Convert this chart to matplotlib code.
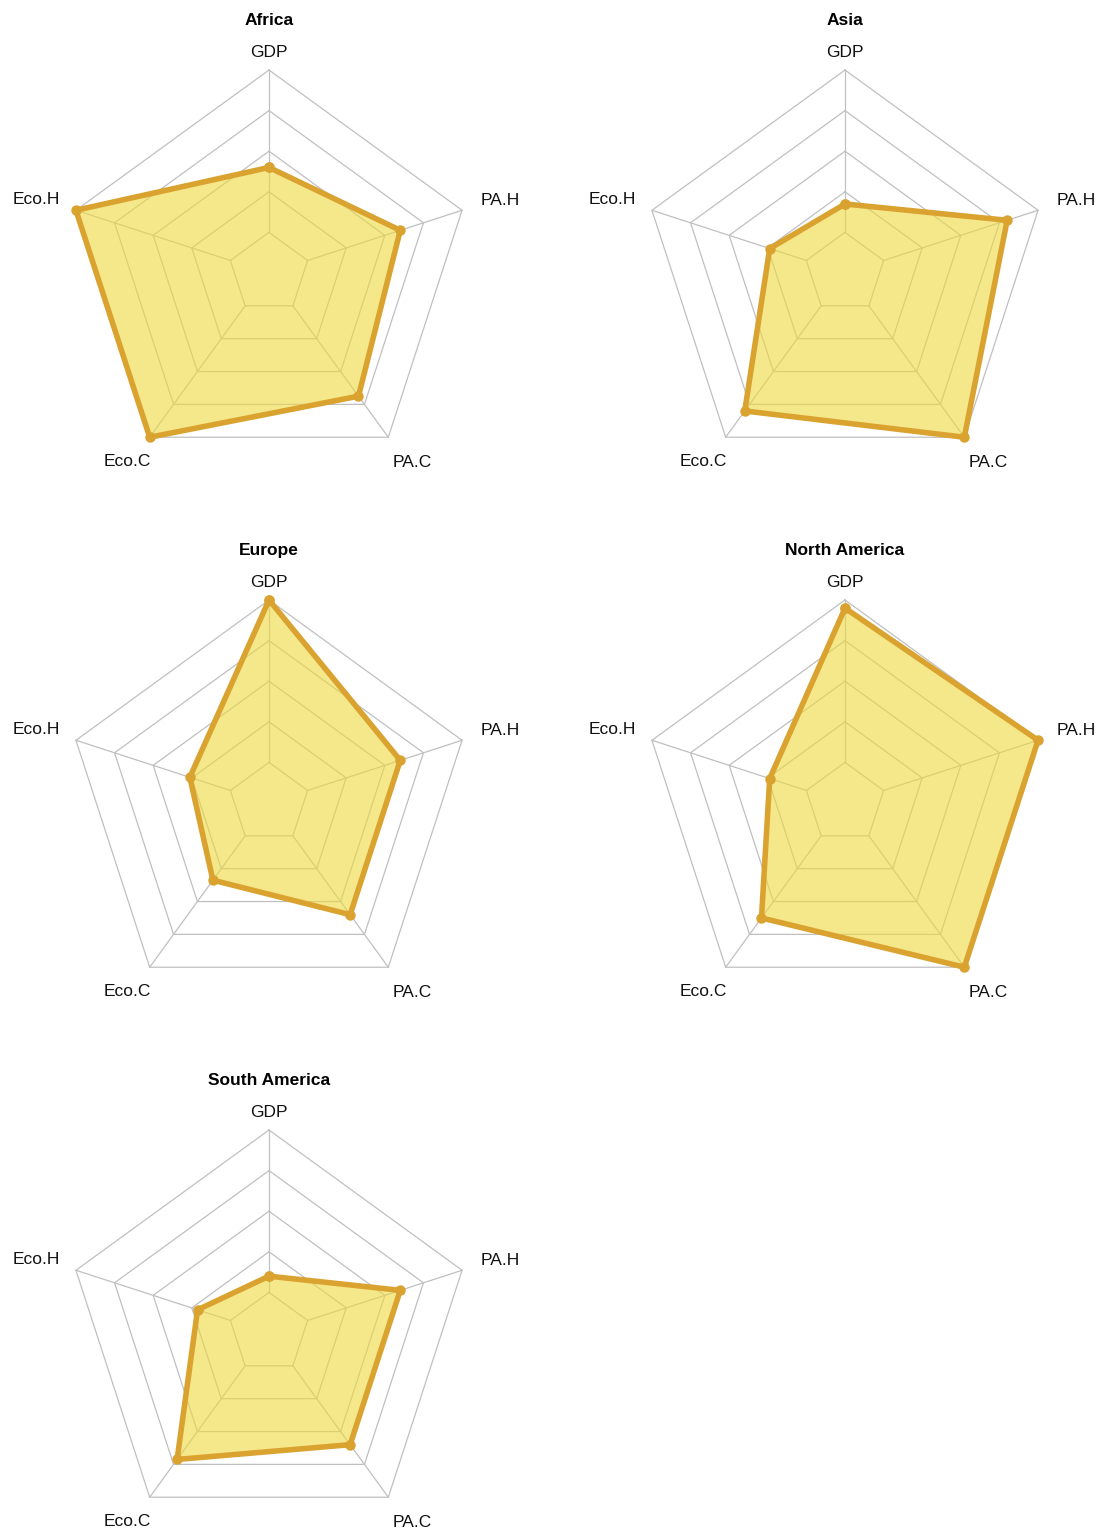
import numpy as np
import matplotlib.pyplot as plt

plt.rcParams['font.family'] = ['Liberation Sans', 'DejaVu Sans']

# variables, clockwise from the top
variables = ['GDP', 'PA.H', 'PA.C', 'Eco.C', 'Eco.H']
regions = ['Africa', 'Asia', 'Europe', 'North America', 'South America']

# scaled values (0-1)
africa = [0.52, 0.68, 0.75, 1.00, 1.00]
asia = [0.34, 0.84, 1.00, 0.84, 0.39]
europe = [1.00, 0.68, 0.68, 0.47, 0.41]
north_america = [0.96, 1.00, 1.00, 0.70, 0.39]
south_america = [0.28, 0.68, 0.68, 0.77, 0.37]

grid_levels = [0.2, 0.4, 0.6, 0.8, 1.0]

LINE = '#DAA330'
FILL = '#EFD93E'
GRID = '#C0C0C0'

W, H = 1106, 1532
R_PX = 203      # radius of outer ring in pixels
HALF = 260      # half size of each axes in pixels
centers = [(269, 273), (845, 273), (269, 803), (845, 803), (269, 1333)]

# label placement relative to the outer vertex (pixels, y up)
label_style = {
    'GDP': ((0, 13), 'center'),
    'PA.H': ((19, 5), 'left'),
    'PA.C': ((24, -30), 'center'),
    'Eco.C': ((-22, -29), 'center'),
    'Eco.H': ((-16, 6), 'right'),
}

theta = 2 * np.pi * np.arange(len(variables)) / len(variables)
ux, uy = np.sin(theta), np.cos(theta)


def radar(ax, name, values):
    lim = HALF / R_PX
    # rings
    for lev in grid_levels:
        ax.plot(np.append(ux, ux[0]) * lev, np.append(uy, uy[0]) * lev,
                color=GRID, lw=0.9, zorder=1)
    # spokes start at the innermost ring
    for x, y in zip(ux, uy):
        ax.plot([x * grid_levels[0], x], [y * grid_levels[0], y], color=GRID, lw=0.9, zorder=1)

    v = np.array(values)
    px, py = np.append(ux * v, ux[0] * v[0]), np.append(uy * v, uy[0] * v[0])
    ax.fill(px, py, color=FILL, alpha=0.6, lw=0, zorder=2)
    ax.plot(px, py, color=LINE, lw=4.0, marker='o', ms=6.5, solid_joinstyle='round', zorder=3)

    for var, x, y in zip(variables, ux, uy):
        off, ha = label_style[var]
        ax.annotate(var, xy=(x, y), xytext=off, textcoords='offset pixels',
                    ha=ha, va='baseline', fontsize=12.5, color='#111111')
    ax.annotate(name, xy=(0, 1), xytext=(0, 45), textcoords='offset pixels',
                ha='center', va='baseline', fontsize=12.5, fontweight='bold')

    ax.set_xlim(-lim, lim)
    ax.set_ylim(-lim, lim)
    ax.set_aspect('equal')
    ax.axis('off')


fig = plt.figure(figsize=(W / 100, H / 100), dpi=100)
for name, vals, (cx, cy) in zip(regions, [africa, asia, europe, north_america, south_america], centers):
    ax = fig.add_axes([(cx - HALF) / W, (H - cy - HALF) / H, 2 * HALF / W, 2 * HALF / H])
    radar(ax, name, vals)

fig.savefig('out.png', dpi=100)
